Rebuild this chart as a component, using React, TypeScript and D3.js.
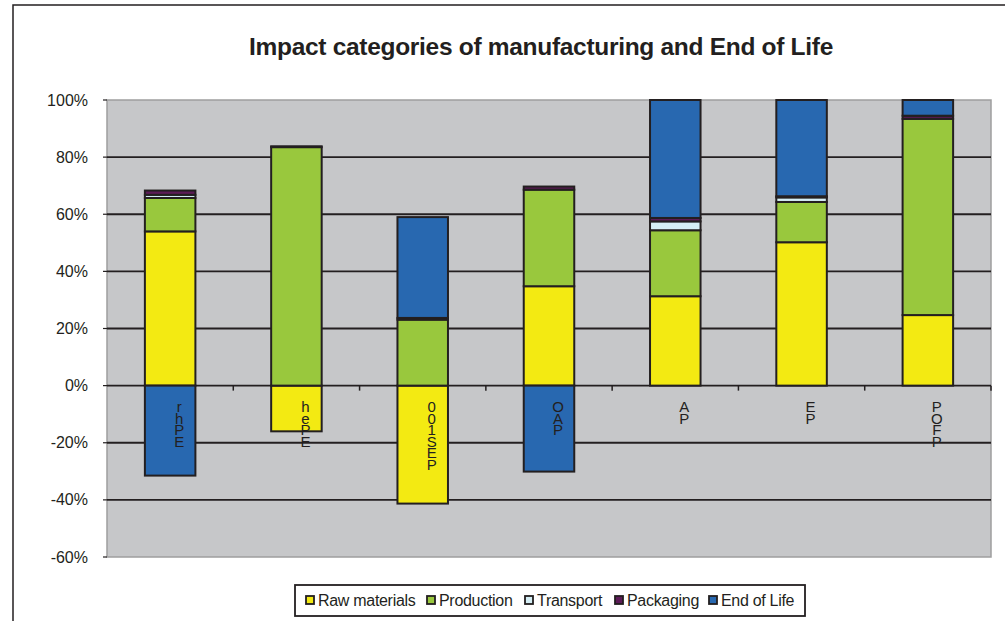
import React from "react";
import * as d3 from "d3";

const categories = ["c1", "c2", "c3", "c4", "c5", "c6", "c7"];
const categoryLabels = [
  ["r", "h", "P", "E"],
  ["h", "e", "P", "E"],
  ["0", "0", "1", "S", "E", "P"],
  ["O", "A", "P"],
  ["A", "P"],
  ["E", "P"],
  ["P", "O", "F", "P"],
];
const seriesNames = ["Raw materials", "Production", "Transport", "Packaging", "End of Life"];
const rawMaterials = [54, -16, -41.3, 34.8, 31.3, 50.2, 24.7];
const production = [11.7, 83.5, 23.1, 33.8, 23.1, 14.1, 68.7];
const transport = [1.1, 0, 0, 0, 3.1, 1.6, 0];
const packaging = [1.5, 0.3, 0.6, 1.1, 1.2, 0.4, 1.1];
const endOfLife = [-31.5, 0, 35.3, -30.1, 41.3, 33.7, 5.5];
const yTicks = [-60, -40, -20, 0, 20, 40, 60, 80, 100];
const colors = ["#F3EA12", "#99C83D", "#D5EEF5", "#5C1B57", "#2868B0"];
const title = "Impact categories of manufacturing and End of Life";

const W = 1005;
const H = 621;
const plot = { left: 107, right: 991, top: 100, bottom: 557 };
const dark = "#231F20";
const font = "'Liberation Sans', Arial, sans-serif";
const legendX = [306, 427, 525, 615, 709];

export default function App() {
  const seriesValues = [rawMaterials, production, transport, packaging, endOfLife];
  const rows = categories.map((c, i) => {
    const r: any = { cat: c };
    seriesNames.forEach((s, k) => (r[s] = seriesValues[k][i]));
    return r;
  });
  const stacked = d3
    .stack<any>()
    .keys(seriesNames)
    .offset(d3.stackOffsetDiverging)(rows);

  const x = d3
    .scaleBand<string>()
    .domain(categories)
    .range([plot.left, plot.right])
    .paddingInner(0.6)
    .paddingOuter(0.3);
  const y = d3.scaleLinear().domain([-60, 100]).range([plot.bottom, plot.top]);
  const step = x.step();

  return (
    <svg
      width={W}
      height={H}
      style={{ position: "absolute", left: 0, top: 0, background: "#fff" }}
      fontFamily={font}
    >
      <rect x={13} y={5} width={1100} height={800} fill="#fff" stroke={dark} strokeWidth={1.5} />
      <text
        x={541}
        y={55}
        textAnchor="middle"
        fontSize={24.5}
        fontWeight="bold"
        letterSpacing={-0.3}
        fill={dark}
      >
        {title}
      </text>

      <rect
        x={plot.left}
        y={plot.top}
        width={plot.right - plot.left}
        height={plot.bottom - plot.top}
        fill="#C6C7C9"
        stroke="#9E9E9E"
        strokeWidth={1.5}
      />
      {yTicks
        .filter((t) => t !== -60 && t !== 100)
        .map((t) => (
          <line
            key={"g" + t}
            x1={plot.left}
            x2={plot.right}
            y1={y(t)}
            y2={y(t)}
            stroke={dark}
            strokeWidth={1.8}
          />
        ))}
      {yTicks.map((t) => (
        <g key={"t" + t}>
          <line x1={plot.left - 4} x2={plot.left} y1={y(t)} y2={y(t)} stroke={dark} strokeWidth={1.2} />
          <text x={88} y={y(t)} dy="0.35em" textAnchor="end" fontSize={16} fill={dark}>
            {t + "%"}
          </text>
        </g>
      ))}
      {categories.slice(1).map((c) => (
        <line
          key={"xt" + c}
          x1={(x(c) as number) - (step - x.bandwidth()) / 2}
          x2={(x(c) as number) - (step - x.bandwidth()) / 2}
          y1={y(0)}
          y2={y(0) + 5}
          stroke={dark}
          strokeWidth={1.5}
        />
      ))}
      <line x1={plot.right} x2={plot.right} y1={y(0)} y2={y(0) + 5} stroke={dark} strokeWidth={1.5} />

      {stacked.map((layer, k) => (
        <g key={layer.key} fill={colors[k]} stroke={dark} strokeWidth={2}>
          {layer.map((d, i) => {
            const v = seriesValues[k][i];
            if (!v) return null;
            const y0 = y(d[0]);
            const y1 = y(d[1]);
            return (
              <rect
                key={i}
                x={x(categories[i])}
                y={Math.min(y0, y1)}
                width={x.bandwidth()}
                height={Math.abs(y0 - y1)}
              />
            );
          })}
        </g>
      ))}

      {categoryLabels.map((chars, i) => {
        const cx = (x(categories[i]) as number) + x.bandwidth() / 2 + 9;
        return (
          <text key={"cl" + i} x={cx} y={412} textAnchor="middle" fontSize={15} fill={dark}>
            {chars.map((ch, j) => (
              <tspan key={j} x={cx} dy={j === 0 ? 0 : 11.5}>
                {ch}
              </tspan>
            ))}
          </text>
        );
      })}

      <rect x={295} y={585} width={510} height={31} fill="#fff" stroke={dark} strokeWidth={1.8} />
      {seriesNames.map((s, k) => (
        <g key={"lg" + s}>
          <rect x={legendX[k]} y={596} width={8} height={8} fill={colors[k]} stroke={dark} strokeWidth={1.8} />
          <text x={legendX[k] + 12} y={600} dy="0.35em" fontSize={16} fill={dark} letterSpacing={-0.3}>
            {s}
          </text>
        </g>
      ))}
    </svg>
  );
}
